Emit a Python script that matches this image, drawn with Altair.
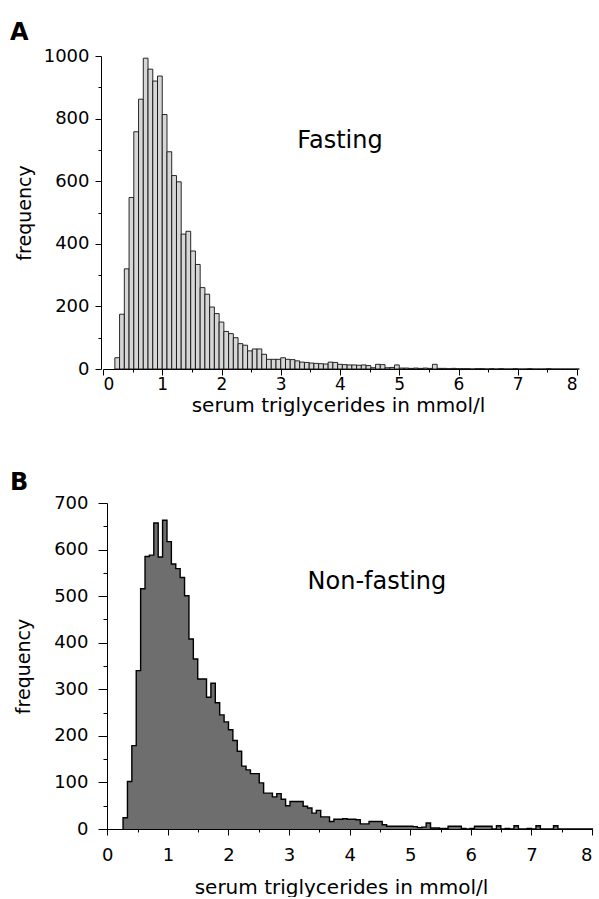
import altair as alt
import pandas as pd

FONT = "DejaVu Sans"

# ---------------- data ----------------
# Panel A: fasting triglycerides histogram (bin width / first bin edge in mmol/l)
a_bin_start = 0.2
a_bin_width = 0.08
a_counts = [36, 175, 320, 548, 758, 862, 993, 958, 920, 936,
            813, 694, 618, 598, 431, 440, 377, 334, 260, 239,
            198, 177, 150, 120, 113, 100, 81, 76, 58, 64,
            64, 47, 31, 31, 31, 36, 31, 30, 26, 22,
            21, 19, 18, 17, 16, 22, 21, 15, 14, 13,
            13, 12, 13, 11, 4, 15, 14, 4, 5, 13,
            3, 3, 2, 3, 2, 3, 2, 15, 2, 2,
            1, 2, 1, 1, 1, 0, 1, 1, 0, 1,
            0, 1, 0, 0, 1, 0, 0, 1, 0, 0,
            0, 1, 0, 0, 0, 0, 0, 0]

# Panel B: non-fasting triglycerides histogram
b_bin_start = 0.26
b_bin_width = 0.0725
b_counts = [24, 102, 179, 340, 516, 585, 588, 657, 584, 663,
            617, 569, 559, 540, 501, 408, 365, 322, 322, 283,
            313, 271, 245, 230, 213, 190, 167, 135, 127, 119,
            119, 99, 77, 77, 69, 76, 64, 50, 59, 59,
            59, 49, 45, 34, 40, 26, 26, 16, 21, 21,
            22, 21, 21, 20, 11, 11, 16, 16, 16, 9,
            6, 6, 6, 6, 6, 6, 5, 3, 4, 13,
            2, 2, 1, 1, 6, 6, 6, 1, 0, 1,
            6, 6, 6, 6, 0, 7, 0, 1, 0, 7,
            0, 0, 1, 0, 7, 0, 0, 0, 7, 0,
            0, 0, 0, 0, 0, 0, 0]

x_major = [0, 1, 2, 3, 4, 5, 6, 7, 8]
x_minor = [0.5, 1.5, 2.5, 3.5, 4.5, 5.5, 6.5, 7.5]
a_y_major = [0, 200, 400, 600, 800, 1000]
a_y_minor = [100, 300, 500, 700, 900]
b_y_major = [0, 100, 200, 300, 400, 500, 600, 700]
b_y_minor = [50, 150, 250, 350, 450, 550, 650]

x_title = "serum triglycerides in mmol/l"
y_title = "frequency"
a_note = {"label": ["Fasting"], "x": [4.0], "y": [705]}
b_note = {"label": ["Non-fasting"], "x": [4.45], "y": [516]}

# ---------------- tables ----------------
a_df = pd.DataFrame({"start": [a_bin_start + i * a_bin_width for i in range(len(a_counts))],
                     "count": a_counts})
a_df["end"] = a_df["start"] + a_bin_width

b_starts = [b_bin_start + i * b_bin_width for i in range(len(b_counts))]
b_df = pd.DataFrame({"start": b_starts, "count": b_counts})
b_outline = pd.DataFrame({
    "x": [b_starts[0]] + b_starts + [b_starts[-1] + b_bin_width],
    "y": [0] + b_counts + [0],
})

A_W, A_H = 474, 313
B_W, B_H = 489, 326


def common_axis(**kw):
    base = dict(labelFont=FONT, labelFontSize=18, labelColor="black",
                titleFont=FONT, titleFontSize=19, titleFontWeight="normal", titleColor="black",
                domainColor="black", tickColor="black", grid=False, format="d")
    base.update(kw)
    return alt.Axis(**base)


def minor_axis(values, size, orient, offset=0):
    return alt.Axis(values=values, tickSize=size, labels=False, domain=False, grid=False,
                    title=None, orient=orient, offset=offset, tickColor="black")


# ---------------- panel A ----------------
a_xscale = alt.Scale(domain=[0, 8], nice=False, zero=False)
a_yscale = alt.Scale(domain=[0, 1000], nice=False)

a_bars = alt.Chart(a_df).mark_rect(fill="#d6d6d6", stroke="#111111", strokeWidth=0.9).encode(
    x=alt.X("start:Q", scale=a_xscale,
            axis=common_axis(values=x_major, tickSize=6, labelPadding=1, labelFontSize=17,
                             title=x_title, titleFontSize=20, titleBaseline="alphabetic",
                             titleX=235, titleY=42, orient="bottom")),
    x2="end:Q",
    y=alt.Y("count:Q", scale=a_yscale,
            axis=common_axis(values=a_y_major, tickSize=6, labelPadding=6, offset=2,
                             title=y_title, titlePadding=9, orient="left")),
    y2=alt.datum(0),
)
a_minor = alt.Chart(a_df).mark_point(opacity=0).encode(
    x=alt.X("start:Q", axis=minor_axis(x_minor, 3, "bottom")),
    y=alt.Y("count:Q", axis=minor_axis(a_y_minor, 3, "left", offset=2)),
)
a_text = alt.Chart(pd.DataFrame(a_note)).mark_text(font=FONT, fontSize=24, color="black",
                                                   align="center", baseline="alphabetic").encode(
    x=alt.X("x:Q", axis=None), y=alt.Y("y:Q", axis=None), text="label:N")
a_tag = alt.Chart(pd.DataFrame({"tag": ["A"]})).mark_text(
    font=FONT, fontSize=24, fontWeight="bold", color="black", align="left", baseline="alphabetic"
).encode(x=alt.value(-93), y=alt.value(-16), text="tag:N")

panel_a = alt.layer(a_bars, a_minor, a_text, a_tag).resolve_axis(
    x="independent", y="independent").properties(width=A_W, height=A_H)

# ---------------- panel B ----------------
b_xscale = alt.Scale(domain=[-0.071, 8], nice=False, zero=False)
b_yscale = alt.Scale(domain=[0, 700], nice=False)

b_area = alt.Chart(b_outline).mark_area(
    color="#6e6e6e", opacity=1, interpolate="step-after",
    line={"color": "black", "strokeWidth": 1.4}
).encode(
    x=alt.X("x:Q", scale=b_xscale,
            axis=common_axis(values=x_major, tickSize=6, labelPadding=11, title=x_title,
                             titleFontSize=20, titleBaseline="alphabetic", titleX=238, titleY=64,
                             orient="bottom")),
    y=alt.Y("y:Q", scale=b_yscale,
            axis=common_axis(values=b_y_major, tickSize=9, labelPadding=10, offset=-4,
                             title=y_title, titlePadding=20, orient="left")),
)
b_minor = alt.Chart(b_df).mark_point(opacity=0).encode(
    x=alt.X("start:Q", axis=minor_axis(x_minor, 3, "bottom")),
    y=alt.Y("count:Q", axis=minor_axis(b_y_minor, 4, "left", offset=-4)),
)
b_text = alt.Chart(pd.DataFrame(b_note)).mark_text(font=FONT, fontSize=24, color="black",
                                                   align="center", baseline="alphabetic").encode(
    x=alt.X("x:Q", axis=None), y=alt.Y("y:Q", axis=None), text="label:N")
b_tag = alt.Chart(pd.DataFrame({"tag": ["B"]})).mark_text(
    font=FONT, fontSize=24, fontWeight="bold", color="black", align="left", baseline="alphabetic"
).encode(x=alt.value(-93), y=alt.value(-13), text="tag:N")

panel_b = alt.layer(b_area, b_minor, b_text, b_tag).resolve_axis(
    x="independent", y="independent").properties(width=B_W, height=B_H)

chart = alt.vconcat(panel_a, panel_b, spacing=134, bounds="flush").properties(
    padding={"left": 10, "top": 21, "right": 0, "bottom": 0},
    background="white",
).configure_view(strokeWidth=0)

chart.save("out.html", embed_options={"renderer": "svg", "actions": False})
